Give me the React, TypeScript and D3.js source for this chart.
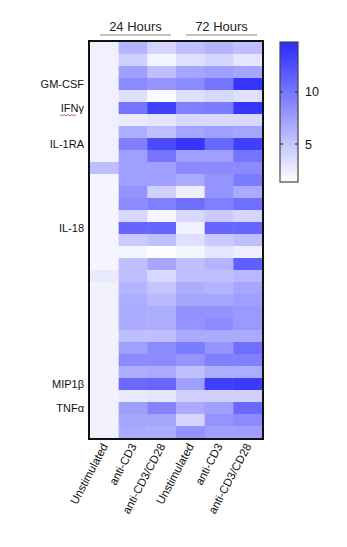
import * as d3 from "d3";

const columns = ["U24", "A24", "AC24", "U72", "A72", "AC72"];
const columnLabels = ["Unstimulated", "anti-CD3", "anti-CD3/CD28", "Unstimulated", "anti-CD3", "anti-CD3/CD28"];
const groups = [
  { label: "24 Hours", cols: ["U24", "AC24"] },
  { label: "72 Hours", cols: ["U72", "AC72"] },
];

const rowLabels = [
  "", "", "", "GM-CSF", "", "IFNγ", "", "", "IL-1RA", "", "",
  "", "", "", "", "IL-18", "", "", "", "", "", "",
  "", "", "", "", "", "", "MIP1β", "", "TNFα", "", "",
];

const values = [
  [2.3, 6.1, 4.0, 5.4, 6.1, 5.4],
  [2.3, 4.3, 2.0, 3.4, 4.0, 3.0],
  [2.3, 7.4, 5.4, 7.0, 7.4, 7.0],
  [2.3, 8.7, 8.1, 8.7, 10.1, 14.1],
  [2.3, 3.4, 1.6, 3.4, 3.8, 3.4],
  [2.3, 10.1, 13.5, 9.4, 9.7, 14.1],
  [2.3, 2.7, 3.0, 3.8, 3.8, 3.8],
  [2.3, 6.5, 5.4, 7.0, 7.4, 7.0],
  [2.3, 9.4, 12.8, 14.1, 10.8, 13.5],
  [2.3, 7.4, 10.1, 7.4, 7.4, 10.1],
  [5.4, 7.4, 7.4, 8.7, 8.7, 8.7],
  [2.0, 7.4, 7.4, 6.7, 8.1, 9.7],
  [2.0, 8.1, 4.3, 2.4, 8.1, 6.7],
  [2.0, 8.7, 9.4, 10.5, 9.4, 10.5],
  [2.0, 3.8, 2.0, 3.8, 4.7, 4.0],
  [2.0, 11.0, 11.0, 2.2, 11.0, 11.0],
  [2.0, 4.7, 5.4, 3.4, 4.7, 5.4],
  [2.0, 2.0, 1.4, 2.0, 3.0, 2.4],
  [2.0, 5.4, 7.0, 5.4, 6.1, 11.4],
  [2.7, 5.4, 3.8, 5.4, 5.4, 5.8],
  [2.2, 6.1, 5.1, 6.5, 6.1, 7.0],
  [2.2, 6.5, 5.7, 7.0, 7.0, 7.4],
  [2.2, 6.7, 6.5, 8.3, 8.1, 7.8],
  [2.2, 6.7, 6.5, 8.1, 8.7, 7.8],
  [2.2, 5.4, 5.4, 6.7, 6.7, 6.7],
  [2.2, 7.4, 8.7, 9.7, 8.1, 10.5],
  [2.2, 8.7, 8.7, 8.1, 9.4, 9.4],
  [2.2, 6.5, 6.7, 5.4, 6.5, 6.5],
  [2.2, 10.8, 11.0, 7.4, 13.5, 13.7],
  [2.2, 2.7, 3.0, 4.3, 4.3, 4.3],
  [2.2, 7.4, 9.1, 6.7, 7.4, 10.8],
  [2.2, 7.0, 7.0, 4.0, 8.1, 8.7],
  [2.2, 6.7, 6.5, 8.1, 7.4, 7.4],
];

const colorTicks = [5, 10];
const vMin = 1.35;
const vMax = 14.8;

const font = "'Liberation Sans', Arial, sans-serif";

export default function App() {
  const x = d3.scaleBand().domain(columns).range([90, 262]);
  const y = d3
    .scaleBand<number>()
    .domain(d3.range(values.length))
    .range([42, 438]);
  const color = d3
    .scaleLinear<string>()
    .domain([vMin, vMax])
    .range(["#ffffff", "#2a2aff"])
    .interpolate(d3.interpolateRgb);
  const cy = d3.scaleLinear().domain([vMin, vMax]).range([182, 42]);

  const gradStops = d3.range(0, 1.0001, 0.1);

  return (
    <svg
      width={347}
      height={547}
      style={{ position: "absolute", left: 0, top: 0, background: "#fff" }}
      fontFamily={font}
    >
      <defs>
        <linearGradient id="cbar" x1="0" y1="1" x2="0" y2="0">
          {gradStops.map((t) => (
            <stop
              key={t}
              offset={t}
              stopColor={color(vMin + t * (vMax - vMin))}
            />
          ))}
        </linearGradient>
      </defs>

      {/* group headers */}
      {groups.map((g) => {
        const x0 = (x(g.cols[0]) ?? 0) + 10;
        const x1 = (x(g.cols[1]) ?? 0) + x.bandwidth() - 5;
        return (
          <g key={g.label}>
            <text
              x={(x0 + x1) / 2}
              y={31}
              textAnchor="middle"
              fontSize={13}
              fill="#222"
            >
              {g.label}
            </text>
            <line x1={x0} x2={x1} y1={35} y2={35} stroke="#888" strokeWidth={1.2} />
          </g>
        );
      })}

      {/* cells */}
      {values.map((row, i) =>
        row.map((v, j) => (
          <rect
            key={`${i}-${j}`}
            x={x(columns[j])}
            y={y(i)}
            width={x.bandwidth() + 0.5}
            height={y.bandwidth() + 0.5}
            fill={color(v)}
          />
        )),
      )}
      <rect
        x={89}
        y={41}
        width={174}
        height={398}
        fill="none"
        stroke="#111"
        strokeWidth={2}
      />

      {/* row labels */}
      {rowLabels.map((lab, i) =>
        lab ? (
          <text
            key={i}
            x={84}
            y={(y(i) ?? 0) + y.bandwidth() / 2 + 4}
            textAnchor="end"
            fontSize={11}
            fill="#111"
          >
            {lab}
          </text>
        ) : null,
      )}
      {/* spell-check squiggle under IFNγ */}
      <path
        d={d3.range(60, 78, 2).map((px, k) => `${k ? "L" : "M"}${px},${(y(5) ?? 0) + y.bandwidth() / 2 + 7 + (k % 2 ? 1 : -0.5)}`).join(" ")}
        fill="none"
        stroke="#d33"
        strokeWidth={0.8}
      />

      {/* column labels */}
      {columnLabels.map((lab, j) => {
        const cx = (x(columns[j]) ?? 0) + x.bandwidth() / 2 + 4;
        return (
          <text
            key={j}
            transform={`translate(${cx},446) rotate(-62)`}
            textAnchor="end"
            fontSize={11.5}
            fill="#111"
          >
            {lab}
          </text>
        );
      })}

      {/* colour bar */}
      <rect
        x={280}
        y={cy(vMax)}
        width={18}
        height={cy(vMin) - cy(vMax)}
        fill="url(#cbar)"
        stroke="#444"
        strokeWidth={1.2}
      />
      {colorTicks.map((t) => (
        <g key={t}>
          <line x1={280} x2={283} y1={cy(t)} y2={cy(t)} stroke="#333" strokeWidth={1.2} />
          <line x1={295} x2={298} y1={cy(t)} y2={cy(t)} stroke="#333" strokeWidth={1.2} />
          <text x={305} y={cy(t) + 4.5} fontSize={12.5} fill="#111">
            {t}
          </text>
        </g>
      ))}
    </svg>
  );
}
